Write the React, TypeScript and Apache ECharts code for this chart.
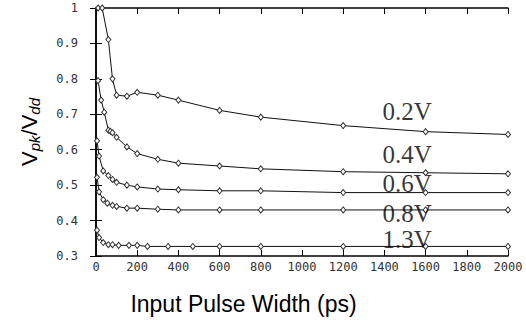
import React, { useEffect, useRef } from "react";
import * as echarts from "echarts";

const xTicks = [0, 200, 400, 600, 800, 1000, 1200, 1400, 1600, 1800, 2000];
const yTicks = [0.3, 0.4, 0.5, 0.6, 0.7, 0.8, 0.9, 1];

const seriesNames = ["0.2V", "0.4V", "0.6V", "0.8V", "1.3V"];

const x02 = [10, 30, 60, 80, 100, 150, 200, 300, 400, 600, 800, 1200, 1600, 2000];
const v02 = [1, 1, 0.911, 0.8, 0.754, 0.751, 0.762, 0.754, 0.74, 0.711, 0.692, 0.668, 0.651, 0.643];

const x04 = [10, 25, 40, 60, 70, 80, 100, 150, 200, 300, 400, 600, 800, 1200, 1600, 2000];
const v04 = [0.795, 0.74, 0.706, 0.655, 0.652, 0.648, 0.635, 0.608, 0.589, 0.573, 0.562, 0.554, 0.546, 0.538, 0.535, 0.532];

const x06 = [5, 15, 35, 60, 80, 100, 150, 200, 300, 400, 600, 800, 1200, 1600, 2000];
const v06 = [0.625, 0.582, 0.54, 0.527, 0.516, 0.508, 0.5, 0.495, 0.489, 0.487, 0.484, 0.484, 0.479, 0.479, 0.479];

const x08 = [5, 15, 35, 55, 80, 100, 150, 200, 300, 400, 600, 800, 1200, 1600, 2000];
const v08 = [0.522, 0.481, 0.459, 0.449, 0.443, 0.44, 0.435, 0.435, 0.432, 0.43, 0.43, 0.43, 0.43, 0.43, 0.43];

const x13 = [5, 15, 35, 60, 80, 110, 160, 200, 250, 350, 470, 600, 800, 1200, 1600, 2000];
const v13 = [0.373, 0.352, 0.338, 0.332, 0.332, 0.33, 0.33, 0.33, 0.327, 0.327, 0.327, 0.327, 0.327, 0.327, 0.327, 0.327];

const labelX = [1510, 1510, 1510, 1510, 1510];
const labelY = [0.708, 0.586, 0.505, 0.42, 0.347];

const allX = [x02, x04, x06, x08, x13];
const allV = [v02, v04, v06, v08, v13];

export default function App() {
  const ref = useRef<HTMLDivElement>(null);
  useEffect(() => {
    if (!ref.current) return;
    const chart = echarts.init(ref.current, null, { renderer: "svg" });
    const tickFont = { fontFamily: "DejaVu Sans Mono", fontSize: 12, color: "#333" };
    const lineSeries = seriesNames.map((name, i) => ({
      type: "line",
      name,
      data: allX[i].map((x, j) => [x, allV[i][j]]),
      symbol: "diamond",
      symbolSize: [5, 6],
      lineStyle: { color: "#111", width: 1 },
      itemStyle: { color: "#fff", borderColor: "#333", borderWidth: 1 },
      z: 3,
    }));
    const labelSeries = {
      type: "scatter",
      data: seriesNames.map((n, i) => ({ value: [labelX[i], labelY[i]], name: n })),
      symbolSize: 0,
      label: {
        show: true,
        position: "inside",
        formatter: (p: any) => p.name,
        fontFamily: "Liberation Serif",
        fontSize: 25,
        lineHeight: 20,
        color: "#000",
      },
      silent: true,
      z: 5,
    };
    chart.setOption({
      animation: false,
      backgroundColor: "#fff",
      grid: { left: 96, right: 18, top: 8, bottom: 53 },
      xAxis: [
        {
          type: "value",
          min: 0,
          max: 2000,
          interval: 200,
          name: "Input Pulse Width (ps)",
          nameLocation: "middle",
          nameGap: 36,
          nameTextStyle: { fontFamily: "Liberation Sans", fontSize: 23, color: "#000", padding: [0, 117, 0, 0] },
          axisLine: { show: true, lineStyle: { color: "#000", width: 1.5 } },
          axisTick: { show: true, inside: true, length: 6, lineStyle: { color: "#000" } },
          axisLabel: { ...tickFont, margin: 5, formatter: (v: number) => String(v) },
          splitLine: { show: false },
        },
        {
          type: "value",
          position: "top",
          min: 0,
          max: 2000,
          interval: 200,
          axisLine: { show: true, lineStyle: { color: "#000", width: 1.5 } },
          axisTick: { show: true, inside: true, length: 6, lineStyle: { color: "#000" } },
          axisLabel: { show: false },
          splitLine: { show: false },
        },
      ],
      yAxis: [
        {
          type: "value",
          min: 0.3,
          max: 1,
          interval: 0.1,
          name: "{v|V}{s|pk}{v|/V}{s|dd}",
          nameLocation: "middle",
          nameGap: 54,
          nameTextStyle: {
            rich: {
              v: { fontFamily: "Liberation Sans", fontSize: 22, color: "#000" },
              s: {
                fontFamily: "Liberation Sans",
                fontSize: 15,
                fontStyle: "italic",
                color: "#000",
                padding: [10, 0, 0, 0],
                verticalAlign: "bottom",
              },
            },
          },
          axisLine: { show: true, lineStyle: { color: "#000", width: 1.5 } },
          axisTick: { show: true, inside: true, length: 6, lineStyle: { color: "#000" } },
          axisLabel: {
            ...tickFont,
            margin: 18,
            formatter: (v: number) => (Math.abs(v - 1) < 1e-9 ? "1" : v.toFixed(1)),
          },
          splitLine: { show: false },
        },
        {
          type: "value",
          position: "right",
          min: 0.3,
          max: 1,
          interval: 0.1,
          axisLine: { show: true, lineStyle: { color: "#000", width: 1.5 } },
          axisTick: { show: true, inside: true, length: 6, lineStyle: { color: "#000" } },
          axisLabel: { show: false },
          splitLine: { show: false },
        },
      ],
      series: [...lineSeries, labelSeries],
    });
    return () => chart.dispose();
  }, []);
  return <div ref={ref} style={{ width: 526, height: 320, position: "absolute", left: 0, top: 0 }} />;
}

// tick labels reference: xTicks, yTicks
void xTicks;
void yTicks;
